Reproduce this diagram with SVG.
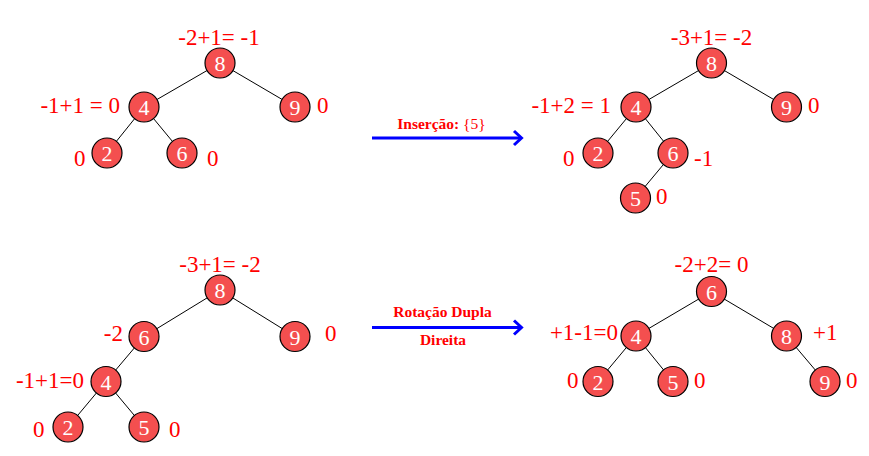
<svg xmlns="http://www.w3.org/2000/svg" width="869" height="456" viewBox="0 0 869 456">
<style>
.n circle{fill:#f44f4f;stroke:#000;stroke-width:1.2}
.n text{fill:#fff;font-family:"Liberation Serif",serif;font-size:22px;text-anchor:middle}
.e line{stroke:#000;stroke-width:1}
.l{fill:#f00;font-family:"Liberation Serif",serif;font-size:23px}
.m{text-anchor:middle}.r{text-anchor:end}
.a{stroke:#00f;stroke-width:3;fill:none}
.t{fill:#f00;font-family:"Liberation Serif",serif;font-size:15.5px;font-weight:bold;text-anchor:middle}
</style>
<!-- Tree 1 -->
<g class="e" id="edges1">
<line x1="220" y1="63" x2="144" y2="107"/><line x1="220" y1="63" x2="295" y2="107"/>
<line x1="144" y1="107" x2="107" y2="153"/><line x1="144" y1="107" x2="182" y2="153"/>
</g>
<g class="n" id="t1n8"><circle cx="220" cy="63" r="15"/><text x="220" y="71">8</text></g>
<g class="n" id="t1n4"><circle cx="144" cy="107" r="15"/><text x="144" y="115">4</text></g>
<g class="n" id="t1n9"><circle cx="295" cy="107" r="15"/><text x="295" y="115">9</text></g>
<g class="n" id="t1n2"><circle cx="107" cy="153" r="15"/><text x="107" y="161">2</text></g>
<g class="n" id="t1n6"><circle cx="182" cy="153" r="15"/><text x="182" y="161">6</text></g>
<g id="t1labels">
<text class="l m" x="219" y="45">-2+1= -1</text>
<text class="l r" x="120" y="113">-1+1 = 0</text>
<text class="l" x="317" y="113">0</text>
<text class="l" x="74" y="166">0</text>
<text class="l" x="207" y="166">0</text>
</g>
<!-- Tree 2 -->
<g class="e" id="edges2">
<line x1="711.5" y1="63" x2="636" y2="107"/><line x1="711.5" y1="63" x2="786.5" y2="107"/>
<line x1="636" y1="107" x2="598" y2="153"/><line x1="636" y1="107" x2="673" y2="153"/>
<line x1="673" y1="153" x2="635.5" y2="198"/>
</g>
<g class="n" id="t2n8"><circle cx="711.5" cy="63" r="15"/><text x="711.5" y="71">8</text></g>
<g class="n" id="t2n4"><circle cx="636" cy="107" r="15"/><text x="636" y="115">4</text></g>
<g class="n" id="t2n9"><circle cx="786.5" cy="107" r="15"/><text x="786.5" y="115">9</text></g>
<g class="n" id="t2n2"><circle cx="598" cy="153" r="15"/><text x="598" y="161">2</text></g>
<g class="n" id="t2n6"><circle cx="673" cy="153" r="15"/><text x="673" y="161">6</text></g>
<g class="n" id="t2n5"><circle cx="635.5" cy="198" r="15"/><text x="635.5" y="206">5</text></g>
<g id="t2labels">
<text class="l m" x="711.5" y="45">-3+1= -2</text>
<text class="l r" x="611" y="113">-1+2 = 1</text>
<text class="l" x="808" y="113">0</text>
<text class="l" x="563" y="166">0</text>
<text class="l" x="694" y="166">-1</text>
<text class="l" x="656" y="204">0</text>
</g>
<!-- Tree 3 -->
<g class="e" id="edges3">
<line x1="220" y1="290" x2="144" y2="336.5"/><line x1="220" y1="290" x2="295" y2="336.5"/>
<line x1="144" y1="336.5" x2="106" y2="381.5"/>
<line x1="106" y1="381.5" x2="68" y2="427"/><line x1="106" y1="381.5" x2="144" y2="427"/>
</g>
<g class="n" id="t3n8"><circle cx="220" cy="290" r="15"/><text x="220" y="298">8</text></g>
<g class="n" id="t3n6"><circle cx="144" cy="336.5" r="15"/><text x="144" y="344.5">6</text></g>
<g class="n" id="t3n9"><circle cx="295" cy="336.5" r="15"/><text x="295" y="344.5">9</text></g>
<g class="n" id="t3n4"><circle cx="106" cy="381.5" r="15"/><text x="106" y="389.5">4</text></g>
<g class="n" id="t3n2"><circle cx="68" cy="427" r="15"/><text x="68" y="435">2</text></g>
<g class="n" id="t3n5"><circle cx="144" cy="427" r="15"/><text x="144" y="435">5</text></g>
<g id="t3labels">
<text class="l m" x="220" y="272">-3+1= -2</text>
<text class="l r" x="123" y="341">-2</text>
<text class="l" x="325" y="341">0</text>
<text class="l r" x="84" y="388">-1+1=0</text>
<text class="l" x="33" y="437">0</text>
<text class="l" x="169" y="437">0</text>
</g>
<!-- Tree 4 -->
<g class="e" id="edges4">
<line x1="711.5" y1="291.5" x2="636" y2="336"/><line x1="711.5" y1="291.5" x2="786.5" y2="336"/>
<line x1="636" y1="336" x2="598" y2="381.5"/><line x1="636" y1="336" x2="673" y2="381.5"/>
<line x1="786.5" y1="336" x2="825" y2="381.5"/>
</g>
<g class="n" id="t4n6"><circle cx="711.5" cy="291.5" r="15"/><text x="711.5" y="299.5">6</text></g>
<g class="n" id="t4n4"><circle cx="636" cy="336" r="15"/><text x="636" y="344">4</text></g>
<g class="n" id="t4n8"><circle cx="786.5" cy="336" r="15"/><text x="786.5" y="344">8</text></g>
<g class="n" id="t4n2"><circle cx="598" cy="381.5" r="15"/><text x="598" y="389.5">2</text></g>
<g class="n" id="t4n5"><circle cx="673" cy="381.5" r="15"/><text x="673" y="389.5">5</text></g>
<g class="n" id="t4n9"><circle cx="825" cy="381.5" r="15"/><text x="825" y="389.5">9</text></g>
<g id="t4labels">
<text class="l m" x="711.5" y="272">-2+2= 0</text>
<text class="l r" x="618" y="340">+1-1=0</text>
<text class="l" x="813" y="340">+1</text>
<text class="l" x="567" y="388">0</text>
<text class="l" x="694" y="388">0</text>
<text class="l" x="846" y="388">0</text>
</g>
<!-- Arrows -->
<g id="arrow1">
<line class="a" x1="372" y1="138" x2="521" y2="138"/>
<polyline class="a" points="514,131 521.5,138 514,145" stroke-width="2.5"/>
<text class="t" x="441.5" y="129">Inserção: <tspan font-weight="normal">{5}</tspan></text>
</g>
<g id="arrow2">
<line class="a" x1="372" y1="327.5" x2="521" y2="327.5"/>
<polyline class="a" points="514,320.5 521.5,327.5 514,334.5" stroke-width="2.5"/>
<text class="t" x="442.5" y="317">Rotação Dupla</text>
<text class="t" x="443" y="345">Direita</text>
</g>
</svg>
